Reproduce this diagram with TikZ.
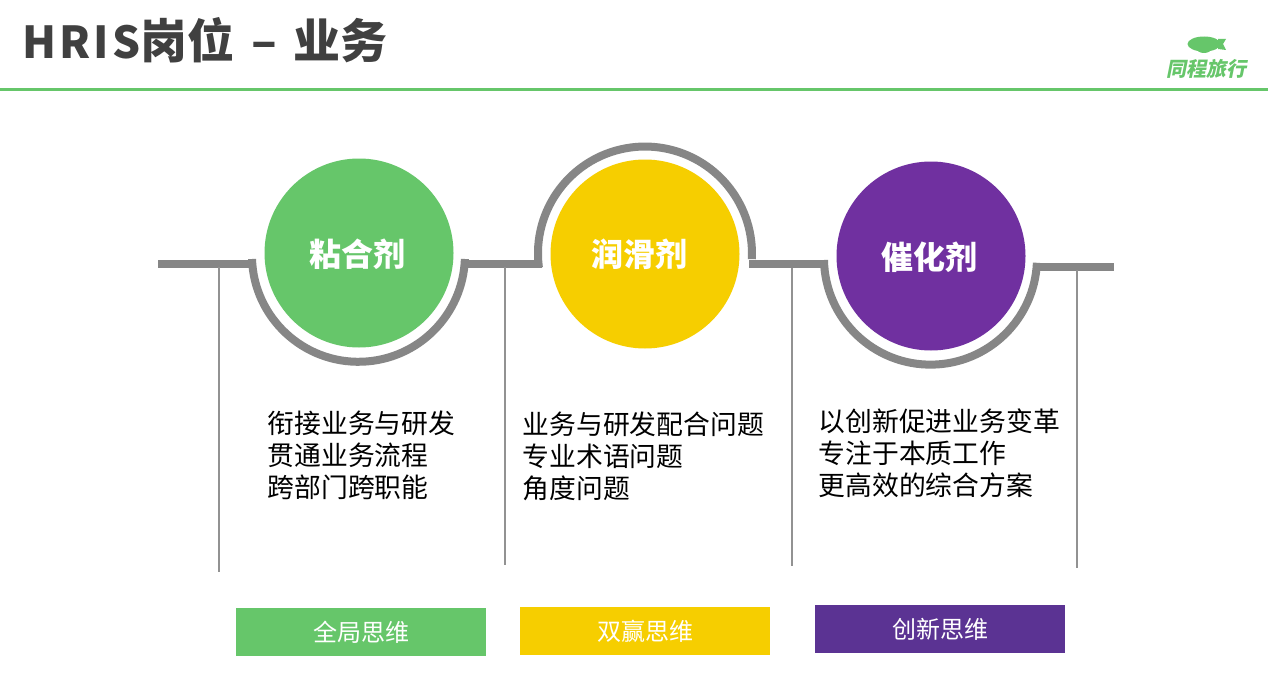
\documentclass[tikz,border=0pt]{standalone}
\usepackage{fontspec}
\usetikzlibrary{positioning}
\newfontfamily\cjk{Noto Sans CJK SC}
\newfontfamily\cjkwide[LetterSpace=7]{Noto Sans CJK SC}
\newfontfamily\cjklogo[FakeSlant=0.2]{Noto Sans CJK SC}
\definecolor{tcgreen}{HTML}{66C66A}
\definecolor{tcyellow}{HTML}{F6CE00}
\definecolor{tcpurple}{HTML}{7030A0}
\definecolor{tcviolet}{HTML}{5B3393}
\definecolor{tcgrey}{HTML}{868686}
\definecolor{tcdark}{HTML}{404040}
\def\firstarc{(252,-259) arc[start angle=182,end angle=358,radius=106.5pt]}
\def\secondarc{(538.9,-267.5) arc[start angle=187.5,end angle=-3,radius=107pt]}
\def\thirdarc{(824,-260) arc[start angle=181,end angle=357.5,radius=106.5pt]}
\tikzset{
    disc/.style={circle, minimum size=189pt, inner sep=0pt},
    disclabel/.style={inner sep=0pt, text=white, font=\cjk\fontsize{32}{32}\selectfont\bfseries},
    rail/.style={draw=tcgrey, line width=8pt},
    post/.style={draw=tcgrey!90, line width=1.8pt},
    body/.style={anchor=north west, align=left, inner sep=0pt, text=black, font=\cjk\fontsize{26.8}{32}\selectfont},
    tag/.style={minimum width=250pt, minimum height=48pt, inner sep=0pt, text=white, font=\cjk\fontsize{24}{24}\selectfont}
}
\begin{document}
\begin{tikzpicture}[x=1pt,y=1pt]
        \useasboundingbox (0,0) rectangle (1268,-685);
        \fill[white] (0,0) rectangle (1268,-685);
        % header
        \node[anchor=base west, inner sep=0pt, text=tcdark, font=\cjk\fontsize{47}{47}\selectfont\bfseries] (title) at (22,-59) {{\cjkwide\bfseries\fontsize{44}{44}\selectfont HRIS}岗位\hspace{17pt}–\hspace{17pt}业务};
        \coordinate (ruleleft) at (0,-89.5);
        \coordinate (ruleright) at (1268,-89.5);
        \draw[tcgreen, line width=3pt] (ruleleft) -- (ruleright);
        % logo
        \fill[tcgreen] (1204,-44) ellipse (16.5pt and 7.5pt);
        \fill[tcgreen] (1204,-49) ellipse (7pt and 4pt);
        \fill[tcgreen] (1218,-39) -- (1226,-39) -- (1223,-44) -- (1226,-50) -- (1218,-49) -- cycle;
        \node[anchor=base, inner sep=0pt, text=tcgreen, font=\cjklogo\fontsize{20}{20}\selectfont\bfseries] (logo) at (1206.5,-77) {同程旅行};
        % circles
        \node[disc, fill=tcgreen] (glue) at (359,-253) {};
        \node[disc, fill=tcyellow] (oil) at (645,-254) {};
        \node[disc, fill=tcpurple] (spark) at (931,-256) {};
        \node[disclabel] (glueLabel) at (357.5,-254) {粘合剂};
        \node[disclabel] (oilLabel) at (639,-254.5) {润滑剂};
        \node[disclabel] (sparkLabel) at (929.5,-257.5) {催化剂};
        % rail
        \draw[rail] (158,-263.5) -- (256,-263.5);
        \draw[rail] \firstarc;
        \draw[rail] (463,-263.5) -- (541.7,-263.5);
        \draw[rail] \secondarc;
        \draw[rail] (749.3,-264) -- (828,-264);
        \draw[rail] \thirdarc;
        \draw[rail] (1035,-266.5) -- (1114,-266.5);
        % posts
        \foreach \x/\ya/\yb/\n in {219/-267/-572/a, 505/-267/-565/b, 792/-268/-566/c, 1077/-270/-568/d} {
            \coordinate (top\n) at (\x,\ya);
            \coordinate (foot\n) at (\x,\yb);
            \draw[post] (top\n) -- (foot\n);
        }
        % texts
        \node[body] (glueText) at (267.5,-410.5) {衔接业务与研发\\贯通业务流程\\跨部门跨职能};
        \node[body] (oilText) at (522.5,-411.5) {业务与研发配合问题\\专业术语问题\\角度问题};
        \node[body] (sparkText) at (818.5,-408.5) {以创新促进业务变革\\专注于本质工作\\更高效的综合方案};
        % tags
        \node[tag, fill=tcgreen] (glueTag) at (361,-632) {全局思维};
        \node[tag, fill=tcyellow] (oilTag) at (645,-631) {双赢思维};
        \node[tag, fill=tcviolet] (sparkTag) at (940,-629) {创新思维};
    \end{tikzpicture}
\end{document}
